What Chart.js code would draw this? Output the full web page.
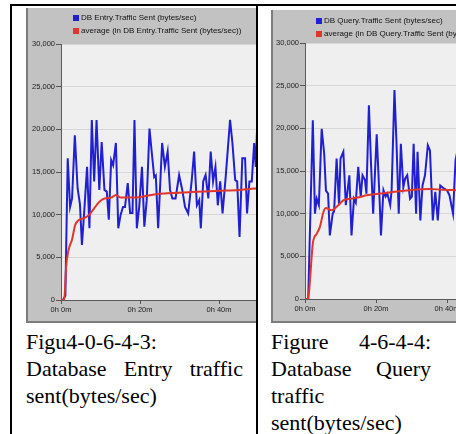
<!DOCTYPE html>
<html>
<head>
<meta charset="utf-8">
<script src="https://cdn.jsdelivr.net/npm/chart.js@4.4.1/dist/chart.umd.min.js"></script>
<style>
  html, body { margin: 0; padding: 0; background: #fff; }
  body { width: 456px; height: 434px; overflow: hidden; position: relative; }
  .rule { position: absolute; background: #000; }
  .panel { position: absolute; overflow: hidden; background: #c2c2c2; box-shadow: inset 2px -2px 0 #7c7c7c; }
  .panel canvas { position: absolute; left: 0; top: 0; }
  .legend { position: absolute; font: 8px "Liberation Sans", Arial, sans-serif; color: #111; white-space: nowrap; }
  .legend div { height: 13px; line-height: 13px; }
  .legend .box { display: inline-block; width: 6px; height: 6px; margin-right: 2px; vertical-align: -0.5px; }
  .caption { position: absolute; top: 328px; font: 22px/27px "Liberation Serif", "Times New Roman", serif;
             text-align: justify; color: #000; }
</style>
</head>
<body>

<div class="rule" style="left:10px; top:4px; width:446px; height:2px;"></div>
<div class="rule" style="left:10px; top:4px; width:2px; height:430px;"></div>
<div class="rule" style="left:256px; top:4px; width:2px; height:430px;"></div>

<div class="panel" style="left:26px; top:8px; width:230px; height:315px;">
  <canvas id="entryChart" width="292" height="315"></canvas>
  <div class="legend" id="entryLegend" style="left:47px; top:3px;"></div>
</div>

<div class="panel" style="left:271px; top:10px; width:185px; height:313px;">
  <canvas id="queryChart" width="267" height="313"></canvas>
  <div class="legend" id="queryLegend" style="left:45px; top:4px;"></div>
</div>

<div class="caption" style="left:26px; width:217px;">Figu4-0-6-4-3:<br>Database Entry traffic sent(bytes/sec)</div>
<div class="caption" style="left:271px; width:160px;">Figure 4-6-4-4: Database Query traffic sent(bytes/sec)</div>

<script>
// time in minutes, traffic in bytes/sec
const entryMinutes = [0, 0.5, 1.1, 1.7, 2.3, 2.8, 3.5, 4.2, 4.8, 5.3, 5.9, 6.6, 7.2, 7.8, 8.4, 9.0, 9.7, 10.3, 11.0, 11.6,
  12.1, 12.7, 13.2, 13.9, 14.5, 15.1, 15.7, 16.2, 16.9, 17.5, 18.1, 18.6, 19.2, 19.8, 20.5, 21.1, 21.7, 22.4, 23.0, 23.6,
  24.0, 24.6, 25.6, 26.3, 27.0, 27.6, 28.2, 29.0, 29.9, 30.7, 31.4, 32.2, 33.1, 33.7, 34.4, 35.0, 35.4, 36.0, 36.6, 37.3,
  37.9, 38.5, 39.1, 39.7, 40.3, 40.9, 41.7, 42.8, 43.4, 44.1, 44.6, 45.2, 45.9, 46.6, 47.1, 47.7, 48.3, 48.9, 49.3, 49.9];
const entrySent = [0, 0, 500, 16600, 10900, 11900, 19300, 13100, 11200, 6450, 10500, 15600, 8400, 21100, 13900, 21100, 12900, 18500, 12900, 12700,
  9400, 16400, 15800, 18400, 8400, 10000, 10900, 10900, 13700, 10200, 10200, 21100, 8400, 10900, 15600, 8600, 11700, 20100, 17200, 14400,
  14600, 8400, 18400, 15600, 17400, 12900, 11900, 11900, 14650, 12900, 10900, 10150, 14050, 17400, 11100, 11700, 8400, 13900, 14650, 11900,
  17400, 13900, 15600, 11100, 13900, 10150, 14450, 21100, 18400, 14050, 13900, 7400, 16600, 16600, 10150, 13900, 13900, 18400, 15600, 23500];
const entryAvgMinutes = [0, 0.8, 1.3, 1.9, 2.8, 3.6, 4.6, 5.9, 7.2, 8.4, 9.7, 11.0, 12.7, 13.9, 15.1, 19.8, 24.0, 27.0, 33.0, 40.0, 45.0, 49.9];
const entryAvg = [0, 0, 3900, 5850, 7100, 8800, 9400, 9600, 10000, 10750, 11500, 11900, 12000, 12300, 12000, 12050, 12400, 12500, 12650, 12800, 12900, 13100];

const queryMinutes = [0, 0.9, 2.2, 2.8, 3.3, 3.9, 4.7, 5.4, 5.9, 6.5, 7.0, 7.8, 8.2, 8.9, 9.6, 10.0, 10.8, 11.5, 12.5, 13.1,
  13.8, 14.3, 15.0, 15.7, 16.2, 16.9, 17.3, 18.0, 18.6, 19.2, 20.2, 21.0, 21.4, 22.1, 22.7, 23.2, 24.0, 24.4, 25.2, 25.8,
  26.4, 27.0, 27.7, 28.2, 28.8, 29.6, 30.1, 30.6, 31.3, 31.7, 32.5, 33.1, 33.8, 34.6, 35.2, 36.0, 36.7, 37.4, 38.1, 38.7,
  39.3, 40.0, 40.7, 41.7, 42.4, 43.0];
const querySent = [0, 0, 20950, 10000, 11750, 11000, 19950, 17050, 12700, 12350, 7450, 10000, 10300, 16450, 11000, 16450, 17250, 11000, 14500, 7450,
  11750, 11300, 15500, 11950, 14500, 13950, 12350, 22700, 15850, 10000, 19300, 11750, 7450, 12750, 12000, 12350, 11000, 12750, 24500, 18000,
  10000, 18200, 13100, 14100, 14500, 11750, 12000, 18200, 10000, 17250, 9200, 13300, 14500, 18000, 17400, 9200, 12550, 9200, 13300, 13100,
  12900, 12750, 12150, 10000, 16250, 17500];
const queryAvgMinutes = [0, 0.9, 1.4, 2.2, 3.3, 4.2, 5.2, 5.9, 7.5, 8.9, 10.8, 12.7, 15.5, 17.3, 21.1, 24.7, 29.4, 35.0, 38.7, 43.0];
const queryAvg = [0, 0, 2200, 6500, 7650, 8450, 10200, 10650, 10400, 10800, 11550, 11750, 11950, 12150, 12350, 12550, 12750, 12900, 12800, 12750];

const entryLabels = ["DB Entry.Traffic Sent (bytes/sec)", "average (in DB Entry.Traffic Sent (bytes/sec))"];
const queryLabels = ["DB Query.Traffic Sent (bytes/sec)", "average (in DB Query.Traffic Sent (bytes/sec))"];

const xTickValues = [0, 20, 40, 60];
const xTickLabels = ["0h 0m", "0h 20m", "0h 40m", "1h 0m"];
const yMax = 30000;
const yStep = 5000;

const tickFont = { family: '"Liberation Sans", Arial, sans-serif', size: 7.5 };

const plotBackground = {
  id: 'plotBackground',
  beforeDraw(chart) {
    const { ctx, chartArea: a } = chart;
    ctx.save();
    ctx.fillStyle = '#efefef';
    ctx.fillRect(a.left, a.top, a.width, a.height);
    ctx.restore();
  }
};

function toPoints(xs, ys) {
  return xs.map((x, i) => ({ x: x, y: ys[i] }));
}

function buildLegend(chart, el) {
  el.innerHTML = '';
  chart.data.datasets.forEach(ds => {
    const row = document.createElement('div');
    const box = document.createElement('span');
    box.className = 'box';
    box.style.background = ds.borderColor;
    row.appendChild(box);
    row.appendChild(document.createTextNode(ds.label));
    el.appendChild(row);
  });
}

function drawTraffic(canvasId, legendId, labels, sentX, sentY, avgX, avgY, axisW, topPad, axisH) {
  const chart = new Chart(document.getElementById(canvasId), {
    type: 'line',
    data: {
      datasets: [{
        label: labels[0],
        data: toPoints(sentX, sentY),
        borderColor: '#2020d2',
        borderWidth: 2,
        pointRadius: 0,
        tension: 0,
        order: 2
      }, {
        label: labels[1],
        data: toPoints(avgX, avgY),
        borderColor: '#e2352b',
        borderWidth: 2,
        pointRadius: 0,
        cubicInterpolationMode: 'monotone',
        order: 1
      }]
    },
    options: {
      responsive: false,
      animation: false,
      layout: { padding: { top: topPad, right: 20, bottom: 0, left: 0 } },
      plugins: { legend: { display: false }, tooltip: { enabled: false } },
      scales: {
        x: {
          type: 'linear',
          min: 0,
          max: 60,
          afterBuildTicks: s => { s.ticks = xTickValues.map(v => ({ value: v })); },
          afterFit: s => { s.height = axisH; },
          grid: { drawOnChartArea: false, tickLength: 4, tickColor: '#555' },
          border: { color: '#5a5a5a' },
          ticks: {
            font: tickFont, color: '#222', padding: 1, maxRotation: 0, autoSkip: false,
            callback: v => xTickLabels[xTickValues.indexOf(v)]
          }
        },
        y: {
          min: 0,
          max: yMax,
          afterFit: s => { s.width = axisW; },
          grid: { color: '#d6d6d6', tickLength: 5, tickColor: '#555' },
          border: { color: '#5a5a5a' },
          ticks: {
            stepSize: yStep, font: tickFont, color: '#222', padding: 1,
            callback: v => v.toLocaleString('en-US')
          }
        }
      }
    },
    plugins: [plotBackground]
  });
  buildLegend(chart, document.getElementById(legendId));
}

drawTraffic('entryChart', 'entryLegend', entryLabels, entryMinutes, entrySent, entryAvgMinutes, entryAvg, 35, 36, 23);
drawTraffic('queryChart', 'queryLegend', queryLabels, queryMinutes, querySent, queryAvgMinutes, queryAvg, 34, 33, 24);
</script>
</body>
</html>
